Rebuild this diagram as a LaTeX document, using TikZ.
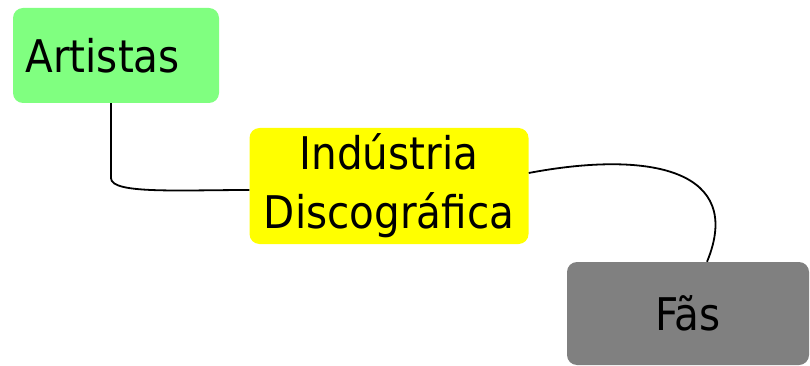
\documentclass[tikz,border=0pt]{standalone}
\usepackage{fontspec}
\setmainfont{DejaVu Sans Condensed}
\begin{document}
\begin{tikzpicture}[x=1pt,y=-1pt,
    conceptbox/.style={rounded corners=10pt, inner sep=0pt, font=\fontsize{45}{59}\selectfont},
    link/.style={draw=black, line width=1.8pt}]
        \useasboundingbox (0,0) rectangle (810,366);
        \definecolor{artgreen}{HTML}{80FF80}
        \definecolor{indyellow}{HTML}{FFFF00}
        \definecolor{fagray}{HTML}{808080}

        % Box for the artists
        \node[conceptbox, fill=artgreen, minimum width=206pt, minimum height=95pt,
              text width=181pt, align=left] (artistas) at (116,55.5) {Artistas};

        % Box for the record industry
        \node[conceptbox, fill=indyellow, minimum width=279pt, minimum height=116pt,
              align=center] (industria) at (389,186) {Indústria\\Discográfica};

        % Box for the fans
        \node[conceptbox, fill=fagray, minimum width=242pt, minimum height=103pt]
              (fas) at (688,313.5) {Fãs};

        % Links between the boxes
        \draw[link] ([xshift=-5pt]artistas.south) -- ++(0,75)
              .. controls +(0,16) and +(-70,0) .. ([yshift=-4pt]industria.west);
        \draw[link] ([yshift=13pt]industria.east)
              .. controls (650,150) and (745,170) .. ([xshift=19pt]fas.north);
    \end{tikzpicture}
\end{document}
